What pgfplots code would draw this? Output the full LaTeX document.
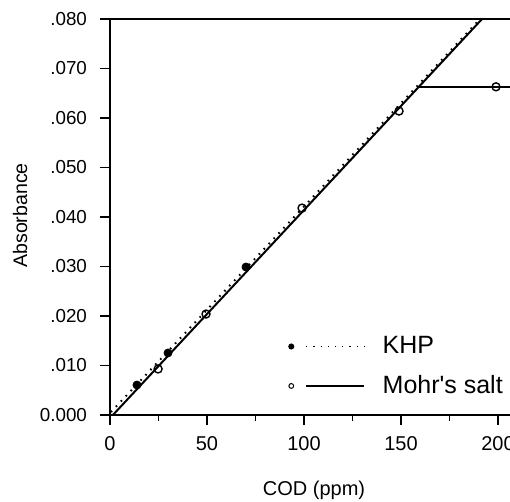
\documentclass[border=0pt]{standalone}
\usepackage{pgfplots}
\pgfplotsset{compat=1.18}
\usepackage{fontspec}
\setmainfont{Liberation Sans}
\begin{document}
\begin{tikzpicture}
\begin{axis}[
  name=ax,
  scale only axis,
  width=200pt, height=198pt,
  xmin=0, xmax=206.2, ymin=0, ymax=0.080,
  axis x line=bottom, axis y line=left,
  axis line style={-, line width=0.9pt},
  clip=false,
  scaled y ticks=false,
  xtick={0,50,100,150,200},
  minor xtick={25,75,125,175},
  ytick={0,0.01,0.02,0.03,0.04,0.05,0.06,0.07,0.08},
  yticklabels={0.000,.010,.020,.030,.040,.050,.060,.070,.080},
  tick align=outside,
  major tick length=5pt, minor tick length=3pt,
  every tick/.style={black, line width=0.8pt},
  yticklabel style={xshift=-3pt, font=\fontsize{9.4}{11}\selectfont},
  xticklabel style={yshift=-2pt, font=\fontsize{10}{12}\selectfont},
  /pgf/number format/assume math mode=true,
  xlabel={COD (ppm)}, ylabel={Absorbance},
  xlabel style={at={(axis description cs:0.51,-0.19)}, anchor=center, font=\fontsize{10}{12}\selectfont},
  ylabel style={at={(axis description cs:-0.225,0.504)}, anchor=center, font=\fontsize{9.8}{11}\selectfont},
  legend style={draw=none, fill=none, at={(axis cs:91.7,0.01677)}, anchor=north west,
    inner sep=0pt, row sep=5.4pt, font=\fontsize{12.5}{14}\selectfont},
  legend cell align=left,
]
% top frame line
\draw[line width=0.9pt] (rel axis cs:0,1) -- (rel axis cs:1,1);
% Mohr's salt fitted line (solid)
\addplot[black, line width=1pt, forget plot] coordinates {(1.5,0) (191.8,0.080)};
\addplot[black, line width=0.8pt, forget plot] coordinates {(158.8,0.0663) (206.2,0.0663)};
% KHP fitted line (dotted)
\addplot[black, line width=1pt, dash pattern=on 0.8pt off 2.8pt, forget plot] coordinates {(0.5,0.0006) (190.8,0.0800)};
% KHP points
\addplot[only marks, mark=*, mark size=2pt, black, forget plot] coordinates {
  (13.9,0.00606) (29.9,0.01253) (70.1,0.0299)};
% Mohr's salt points
\addplot[only marks, mark=o, mark size=2pt, black, line width=0.7pt, mark options={fill=white}, forget plot] coordinates {
  (24.8,0.0093) (49.5,0.0204) (99,0.0418) (149,0.0614) (199,0.0663)};
\addlegendimage{legend image code/.code={
  \fill[black] (0pt,0pt) circle (1.3pt);
  \draw[black, line width=0.5pt, dash pattern=on 0.6pt off 3pt] (7.5pt,0pt) -- (36.5pt,0pt);
  \path (43.5pt,0pt);}}
\addlegendentry{KHP}
\addlegendimage{legend image code/.code={
  \draw[black, line width=0.5pt] (0pt,0pt) circle (1.2pt);
  \draw[black, line width=0.8pt] (7.5pt,0pt) -- (36.5pt,0pt);
  \path (43.5pt,0pt);}}
\addlegendentry{Mohr\textquotesingle s salt}
\end{axis}
\pgfresetboundingbox
\path[use as bounding box] ([xshift=-55pt,yshift=-43.5pt]ax.south west) rectangle ([yshift=9.5pt]ax.north east);
\end{tikzpicture}
\end{document}
